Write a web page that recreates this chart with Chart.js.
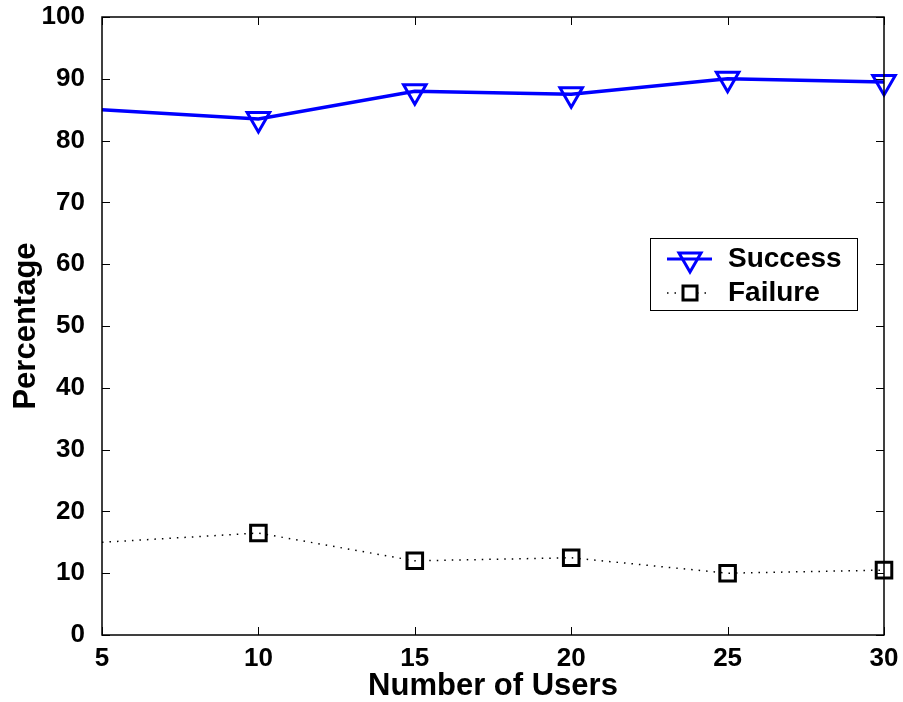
<!DOCTYPE html>
<html>
<head>
<meta charset="utf-8">
<script src="https://cdn.jsdelivr.net/npm/chart.js@4/dist/chart.umd.min.js"></script>
<style>
  html, body { margin: 0; padding: 0; background: #fff; }
  #wrap { width: 903px; height: 702px; position: relative; }
</style>
</head>
<body>
<div id="wrap"><canvas id="chart"></canvas></div>
<script>
const users = [5, 10, 15, 20, 25, 30];
const successPct = [85, 83.5, 88, 87.5, 90, 89.5];
const failurePct = [15, 16.5, 12, 12.5, 10, 10.5];
const xTicks = [5, 10, 15, 20, 25, 30];
const yTicks = [0, 10, 20, 30, 40, 50, 60, 70, 80, 90, 100];

const FONT = '"Liberation Sans", Arial, sans-serif';

// box around the axes plus inward ticks on all four sides
const axesBox = {
    id: 'axesBox',
    afterDatasetsDraw(chart) {
        const { ctx, chartArea: a, scales } = chart;
        ctx.save();
        ctx.strokeStyle = '#000';
        ctx.lineWidth = 1;
        const len = 8;
        ctx.beginPath();
        xTicks.forEach(v => {
            const x = Math.round(scales.x.getPixelForValue(v)) + 0.5;
            ctx.moveTo(x, a.bottom); ctx.lineTo(x, a.bottom - len);
            ctx.moveTo(x, a.top); ctx.lineTo(x, a.top + len);
        });
        yTicks.forEach(v => {
            const y = Math.round(scales.y.getPixelForValue(v)) + 0.5;
            ctx.moveTo(a.left, y); ctx.lineTo(a.left + len, y);
            ctx.moveTo(a.right, y); ctx.lineTo(a.right - len, y);
        });
        ctx.stroke();
        ctx.lineWidth = 1.5;
        ctx.strokeRect(a.left, a.top, a.right - a.left, a.bottom - a.top);
        ctx.restore();
    }
};

// legend box inside the plot
const boxLegend = {
    id: 'boxLegend',
    afterDraw(chart) {
        const { ctx } = chart;
        const x0 = 650, y0 = 238, w = 207, h = 72;
        ctx.save();
        ctx.fillStyle = '#fff';
        ctx.fillRect(x0, y0, w, h);
        ctx.strokeStyle = '#000';
        ctx.lineWidth = 1;
        ctx.strokeRect(x0 + 0.5, y0 + 0.5, w, h);

        // Success entry
        let y = y0 + 21;
        ctx.strokeStyle = '#0000ff';
        ctx.lineWidth = 3;
        ctx.beginPath(); ctx.moveTo(667, y); ctx.lineTo(712, y); ctx.stroke();
        ctx.beginPath();
        ctx.moveTo(679, y - 6); ctx.lineTo(701, y - 6); ctx.lineTo(690, y + 13); ctx.closePath();
        ctx.stroke();

        // Failure entry
        y = y0 + 55;
        ctx.strokeStyle = '#000';
        ctx.lineWidth = 1.5;
        ctx.setLineDash([1.5, 6]);
        ctx.beginPath(); ctx.moveTo(667, y); ctx.lineTo(712, y); ctx.stroke();
        ctx.setLineDash([]);
        ctx.lineWidth = 3;
        ctx.fillStyle = '#fff';
        ctx.fillRect(682, y - 8, 16, 16);
        ctx.strokeRect(683, y - 7, 14, 14);

        ctx.fillStyle = '#000';
        ctx.font = 'bold 28px ' + FONT;
        ctx.textBaseline = 'middle';
        ctx.fillText('Success', 728, y0 + 21);
        ctx.fillText('Failure', 728, y0 + 55);
        ctx.restore();
    }
};

const toPoints = ys => users.map((u, i) => ({ x: u, y: ys[i] }));

new Chart(document.getElementById('chart'), {
    type: 'line',
    data: {
        datasets: [{
            label: 'Success',
            data: toPoints(successPct),
            borderColor: '#0000ff',
            borderWidth: 3.5,
            pointStyle: 'triangle',
            rotation: 180,
            pointRadius: [0, 13, 13, 13, 13, 13],
            pointBorderWidth: 3,
            pointBorderColor: '#0000ff',
            pointBackgroundColor: 'rgba(0,0,0,0)',
            tension: 0,
            clip: false
        }, {
            label: 'Failure',
            data: toPoints(failurePct),
            borderColor: '#000',
            borderWidth: 1.5,
            borderDash: [1.5, 6],
            pointStyle: 'rect',
            pointRadius: [0, 11, 11, 11, 11, 11],
            pointBorderWidth: 3,
            pointBorderColor: '#000',
            pointBackgroundColor: 'rgba(0,0,0,0)',
            tension: 0,
            clip: false
        }]
    },
    options: {
        responsive: true,
        maintainAspectRatio: false,
        animation: false,
        layout: { padding: { top: 17, right: 19, left: 0, bottom: 0 } },
        plugins: {
            legend: { display: false },
            tooltip: { enabled: false }
        },
        scales: {
            x: {
                type: 'linear',
                min: 5,
                max: 30,
                afterBuildTicks: s => { s.ticks = xTicks.map(v => ({ value: v })); },
                afterFit: s => { s.height = 67; s.paddingLeft = 0; s.paddingRight = 0; },
                grid: { display: false },
                border: { display: false },
                ticks: {
                    color: '#000',
                    padding: 0,
                    maxRotation: 0,
                    font: { family: FONT, size: 26, weight: 'bold' }
                },
                title: {
                    display: true,
                    text: 'Number of Users',
                    color: '#000',
                    padding: { top: 0, bottom: -3 },
                    font: { family: FONT, size: 31, weight: 'bold' }
                }
            },
            y: {
                min: 0,
                max: 100,
                afterBuildTicks: s => { s.ticks = yTicks.map(v => ({ value: v })); },
                afterFit: s => { s.width = 102; s.paddingTop = 0; s.paddingBottom = 0; },
                grid: { display: false },
                border: { display: false },
                ticks: {
                    color: '#000',
                    padding: 9,
                    font: { family: FONT, size: 26, weight: 'bold' }
                },
                title: {
                    display: true,
                    text: 'Percentage',
                    color: '#000',
                    padding: { top: 8, bottom: 0 },
                    font: { family: FONT, size: 31, weight: 'bold' }
                }
            }
        }
    },
    plugins: [axesBox, boxLegend]
});
</script>
</body>
</html>
